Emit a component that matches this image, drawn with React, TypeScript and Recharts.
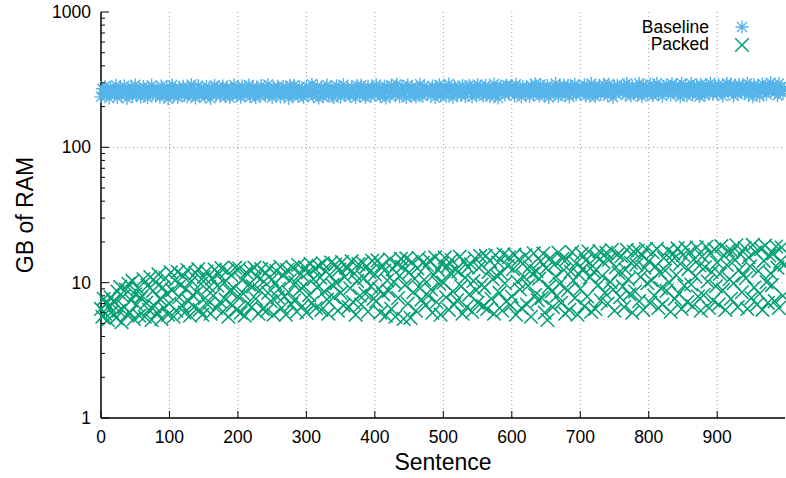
import { ScatterChart, Scatter, XAxis, YAxis, CartesianGrid, Legend } from "recharts";

// one sample every 2 sentences
const SENTENCE_STEP = 2;

const baselineGB = [
  236, 271, 249, 283, 242, 260, 231, 277, 254, 266,
  245, 288, 233, 262, 274, 240, 257, 285, 248, 230,
  268, 251, 279, 237, 263, 290, 244, 256, 272, 235,
  259, 282, 241, 269, 232, 276, 253, 287, 246, 264,
  239, 273, 258, 234, 284, 250, 267, 243, 280, 229,
  261, 247, 289, 238, 270, 255, 233, 278, 265, 252,
  283, 242, 260, 236, 275, 249, 291, 244, 268, 231,
  257, 286, 240, 271, 253, 263, 235, 281, 248, 274,
  230, 266, 255, 288, 243, 277, 259, 238, 269, 284,
  250, 237, 279, 262, 232, 272, 246, 290, 256, 241,
  276, 254, 234, 285, 261, 243, 270, 251, 289, 236,
  264, 280, 247, 232, 273, 258, 241, 286, 267, 252,
  239, 271, 291, 245, 262, 233, 278, 256, 249, 283,
  268, 235, 257, 282, 240, 275, 263, 230, 288, 250,
  244, 287, 266, 253, 237, 279, 248, 270, 234, 260,
  281, 242, 272, 259, 292, 238, 265, 246, 284, 231,
  255, 276, 236, 268, 249, 289, 243, 261, 274, 240,
  233, 262, 285, 251, 277, 235, 269, 290, 245, 258,
  273, 247, 239, 280, 264, 254, 232, 286, 267, 242,
  288, 257, 270, 234, 250, 283, 261, 238, 276, 265,
  243, 291, 256, 272, 237, 266, 248, 284, 231, 278,
  262, 239, 287, 253, 275, 244, 293, 258, 236, 270,
  281, 250, 264, 233, 289, 268, 241, 279, 255, 246,
  235, 274, 260, 292, 247, 238, 282, 263, 271, 252,
  267, 244, 285, 257, 232, 276, 249, 290, 240, 261,
  254, 283, 238, 269, 294, 251, 265, 234, 280, 273,
  246, 259, 277, 242, 286, 256, 237, 271, 263, 288,
  278, 235, 266, 252, 245, 291, 260, 283, 248, 239,
  262, 287, 249, 275, 236, 269, 253, 294, 241, 272,
  231, 268, 284, 258, 279, 244, 289, 264, 250, 276,
  285, 255, 240, 293, 267, 248, 274, 236, 282, 261,
  250, 277, 263, 237, 288, 271, 244, 295, 256, 266,
  239, 291, 252, 280, 245, 265, 286, 233, 275, 258,
  270, 246, 296, 259, 238, 284, 254, 272, 289, 242,
  263, 287, 235, 277, 268, 251, 293, 245, 260, 281,
  248, 274, 261, 290, 240, 279, 266, 238, 296, 257,
  283, 237, 270, 255, 286, 247, 264, 292, 252, 275,
  241, 294, 258, 268, 234, 281, 249, 287, 271, 262,
  276, 253, 289, 243, 296, 260, 273, 239, 284, 251,
  258, 280, 245, 297, 265, 236, 290, 256, 278, 248,
  269, 293, 252, 242, 285, 263, 298, 247, 275, 260,
  238, 282, 272, 290, 254, 267, 244, 295, 259, 279,
  287, 249, 264, 236, 298, 274, 255, 284, 241, 268,
  261, 296, 245, 279, 266, 289, 250, 237, 292, 257,
  276, 242, 287, 262, 253, 299, 270, 246, 283, 264,
  248, 291, 257, 273, 239, 285, 263, 297, 252, 278,
  294, 260, 240, 286, 271, 248, 293, 266, 256, 282,
  251, 277, 298, 244, 288, 262, 236, 290, 274, 259,
  283, 238, 268, 295, 255, 279, 247, 286, 263, 300,
  266, 289, 253, 274, 242, 296, 260, 281, 249, 272,
];

const packedGB = [
  6.4, 5.6, 7.6, 5.9, 7.0, 5.3, 6.7, 7.8, 6.1, 7.3,
  7.2, 5.5, 8.6, 6.2, 9.3, 5.1, 7.9, 6.6, 8.9, 5.8,
  9.8, 6.0, 7.4, 10.3, 5.4, 8.2, 6.9, 9.1, 5.7, 7.7,
  8.0, 10.6, 5.6, 7.1, 9.5, 6.3, 11.0, 5.3, 8.7, 6.7,
  10.1, 6.0, 11.5, 7.6, 5.4, 9.2, 6.5, 10.8, 8.3, 5.8,
  7.0, 11.9, 8.8, 5.6, 10.4, 6.2, 12.0, 7.8, 9.6, 6.8,
  11.2, 6.0, 9.0, 12.4, 7.3, 5.7, 10.3, 8.1, 6.6, 11.8,
  8.5, 12.6, 6.3, 9.8, 5.8, 11.0, 7.7, 12.1, 6.9, 9.3,
  5.9, 10.7, 8.0, 12.5, 6.5, 9.5, 11.6, 7.2, 12.8, 6.1,
  10.0, 7.5, 12.2, 5.6, 8.7, 11.4, 6.8, 9.1, 12.9, 6.3,
  7.9, 12.7, 6.0, 10.5, 8.3, 5.7, 11.9, 7.0, 9.7, 12.3,
  6.6, 9.4, 12.9, 7.6, 11.1, 5.9, 8.8, 12.6, 6.4, 10.2,
  11.7, 6.2, 8.4, 12.8, 7.3, 10.6, 5.8, 9.9, 12.2, 7.8,
  9.0, 13.1, 6.5, 11.3, 7.9, 5.8, 12.4, 8.5, 10.4, 6.9,
  12.9, 7.4, 10.0, 6.1, 13.5, 8.8, 11.6, 6.7, 9.4, 13.0,
  6.0, 11.9, 8.1, 13.8, 7.1, 10.6, 12.7, 6.5, 9.2, 13.3,
  10.9, 6.3, 13.9, 8.6, 12.2, 7.5, 5.9, 11.4, 14.1, 9.6,
  7.8, 13.6, 9.9, 6.2, 12.5, 8.4, 14.2, 6.8, 11.0, 13.0,
  12.8, 6.6, 9.1, 14.4, 7.2, 11.7, 5.8, 10.3, 13.7, 8.0,
  6.9, 14.0, 10.8, 8.3, 13.2, 6.1, 12.0, 9.4, 14.5, 7.6,
  11.5, 7.3, 14.6, 9.0, 6.0, 13.4, 8.2, 12.3, 5.7, 10.4,
  8.7, 14.9, 6.4, 12.6, 10.1, 5.6, 13.8, 7.7, 11.2, 15.0,
  13.1, 5.4, 9.6, 15.1, 7.0, 11.9, 5.5, 14.2, 8.5, 10.7,
  6.2, 12.8, 15.2, 9.1, 7.5, 14.0, 10.5, 6.8, 13.5, 8.0,
  14.6, 8.9, 6.0, 11.4, 15.4, 7.2, 12.5, 9.8, 5.8, 13.9,
  10.0, 15.3, 7.8, 13.2, 6.3, 11.8, 14.7, 8.6, 6.9, 12.4,
  7.4, 12.1, 15.6, 9.4, 5.9, 14.3, 10.9, 6.6, 13.0, 8.2,
  13.7, 6.1, 10.3, 15.1, 8.8, 7.1, 12.9, 15.7, 9.7, 6.7,
  9.2, 15.8, 6.4, 12.0, 14.5, 7.6, 10.6, 5.9, 16.0, 11.3,
  14.1, 8.4, 11.7, 6.2, 16.2, 9.9, 7.3, 13.3, 15.4, 6.8,
  7.9, 12.6, 16.1, 5.8, 10.2, 14.8, 8.9, 6.5, 13.8, 11.0,
  15.9, 6.9, 9.5, 13.1, 5.6, 11.6, 16.5, 8.1, 12.2, 7.4,
  10.7, 14.4, 7.7, 16.4, 6.0, 12.8, 5.3, 9.3, 15.2, 8.6,
  6.6, 13.6, 11.1, 8.0, 16.7, 9.8, 7.1, 15.0, 12.4, 5.9,
  14.9, 8.8, 6.3, 12.1, 16.8, 10.4, 7.7, 13.9, 5.8, 11.5,
  9.0, 16.3, 12.7, 6.7, 14.6, 7.9, 17.0, 10.9, 6.1, 13.3,
  12.0, 6.4, 15.5, 9.6, 17.1, 7.4, 11.2, 14.2, 8.4, 16.6,
  7.0, 14.8, 10.1, 17.4, 8.9, 6.2, 13.0, 16.1, 11.8, 7.8,
  15.7, 9.4, 6.6, 12.5, 17.5, 10.6, 8.2, 14.0, 6.0, 16.9,
  8.6, 13.6, 17.2, 7.3, 11.0, 15.9, 6.3, 12.9, 17.7, 9.9,
  14.4, 7.1, 10.4, 16.7, 8.0, 13.2, 17.8, 6.5, 11.9, 9.1,
  6.9, 15.2, 12.3, 8.7, 17.3, 10.0, 6.1, 14.6, 16.4, 7.6,
  11.4, 17.9, 8.3, 13.8, 6.4, 16.0, 9.5, 18.1, 7.2, 12.6,
  16.8, 9.7, 6.7, 14.9, 11.1, 18.2, 7.9, 13.4, 6.2, 15.6,
  8.1, 13.0, 18.4, 10.2, 6.5, 16.5, 12.0, 7.4, 17.6, 9.4,
  14.1, 6.9, 11.6, 18.6, 8.8, 15.8, 6.3, 13.5, 17.2, 10.6,
  7.6, 17.0, 9.9, 14.7, 18.9, 6.6, 12.4, 16.2, 8.5, 11.3,
  18.0, 10.8, 6.4, 15.4, 13.2, 7.7, 19.0, 9.2, 16.8, 6.9,
  12.2, 8.3, 17.7, 6.3, 14.5, 18.8, 10.1, 7.1, 15.9, 11.7,
  9.6, 16.4, 7.3, 18.5, 12.9, 6.5, 14.3, 18.2, 8.0, 13.6,
];

const xTicks = [0, 100, 200, 300, 400, 500, 600, 700, 800, 900];
const xGridLines = [100, 200, 300, 400, 500, 600, 700, 800, 900];
const yMajorTicks = [1, 10, 100, 1000];
const yMinorTicks = [
  2, 3, 4, 5, 6, 7, 8, 9,
  20, 30, 40, 50, 60, 70, 80, 90,
  200, 300, 400, 500, 600, 700, 800, 900,
];
const yGridLines = [10, 100];

const BASELINE_COLOR = "#56b4e9";
const PACKED_COLOR = "#009e73";
const FONT = '"Liberation Sans", Arial, Helvetica, sans-serif';
const BORDER = { stroke: "#000", strokeWidth: 1.5 };

const toPoints = (values: number[]) =>
  values.map((gb, i) => ({ sentence: i * SENTENCE_STEP, gb }));

function Asterisk({ cx, cy, fill }: any) {
  const r = 6.5;
  const d = 5;
  return (
    <path
      d={`M${cx - r},${cy}H${cx + r}M${cx},${cy - r}V${cy + r}M${cx - d},${cy - d}L${cx + d},${cy + d}M${cx - d},${cy + d}L${cx + d},${cy - d}`}
      stroke={fill}
      strokeWidth={1.4}
      fill="none"
    />
  );
}

function Cross({ cx, cy, fill }: any) {
  const r = 6.8;
  return (
    <path
      d={`M${cx - r},${cy - r}L${cx + r},${cy + r}M${cx - r},${cy + r}L${cx + r},${cy - r}`}
      stroke={fill}
      strokeWidth={1.5}
      fill="none"
    />
  );
}

const shapes: Record<string, any> = { Baseline: Asterisk, Packed: Cross };

function LeftTick({ x, y, payload }: any) {
  const major = yMajorTicks.includes(payload.value);
  return (
    <g>
      <line x1={x} x2={x + (major ? 8 : 4)} y1={y} y2={y} stroke="#000" />
      {major && (
        <text x={x - 10} y={y} dy={6} textAnchor="end" fontSize={17.5} fontFamily={FONT} fill="#000">
          {payload.value}
        </text>
      )}
    </g>
  );
}

function RightTick({ x, y, payload }: any) {
  const major = yMajorTicks.includes(payload.value);
  return <line x1={x} x2={x - (major ? 8 : 4)} y1={y} y2={y} stroke="#000" />;
}

function BottomTick({ x, y, payload }: any) {
  return (
    <g>
      <line x1={x} x2={x} y1={y} y2={y - 7} stroke="#000" />
      <text x={x} y={y + 25} textAnchor="middle" fontSize={17.5} fontFamily={FONT} fill="#000">
        {payload.value}
      </text>
    </g>
  );
}

function TopTick({ x, y }: any) {
  return <line x1={x} x2={x} y1={y} y2={y + 7} stroke="#000" />;
}

function XTitle({ viewBox }: any) {
  return (
    <text x={viewBox.x + viewBox.width / 2} y={viewBox.y + 52} textAnchor="middle" fontSize={23} fontFamily={FONT} fill="#000">
      Sentence
    </text>
  );
}

function YTitle({ viewBox }: any) {
  const x = 33;
  const y = viewBox.y + viewBox.height / 2;
  return (
    <text x={x} y={y} transform={`rotate(-90 ${x} ${y})`} textAnchor="middle" fontSize={23} fontFamily={FONT} fill="#000">
      GB of RAM
    </text>
  );
}

function LegendBox({ payload }: any) {
  return (
    <div style={{ fontFamily: FONT, fontSize: 17.5, color: "#000" }}>
      {(payload ?? []).map((entry: any) => {
        const Shape = shapes[entry.value];
        return (
          <div key={entry.value} style={{ display: "flex", alignItems: "center", height: 17.7 }}>
            <span style={{ width: 90, textAlign: "right", lineHeight: "17.7px" }}>{entry.value}</span>
            <svg width={66} height={18}>
              <Shape cx={33} cy={9} fill={entry.color} />
            </svg>
          </div>
        );
      })}
    </div>
  );
}

export default function App() {
  return (
    <div style={{ position: "absolute", left: 0, top: 0, background: "#fff" }}>
      <ScatterChart width={786} height={478} margin={{ top: 12, right: 1, bottom: 0, left: 0 }}>
        <CartesianGrid
          horizontalValues={yGridLines}
          verticalValues={xGridLines}
          stroke="#9a9a9a"
          strokeDasharray="1 3"
        />
        <XAxis
          dataKey="sentence"
          type="number"
          domain={[0, 999]}
          ticks={xTicks}
          interval={0}
          height={60}
          tickSize={0}
          tickMargin={0}
          tickLine={false}
          axisLine={BORDER}
          tick={(p: any) => <BottomTick {...p} />}
          label={{ content: (p: any) => <XTitle {...p} /> }}
        />
        <XAxis
          xAxisId="top"
          orientation="top"
          type="number"
          domain={[0, 999]}
          allowDataOverflow
          ticks={xTicks}
          interval={0}
          height={0}
          tickSize={0}
          tickMargin={0}
          tickLine={false}
          axisLine={BORDER}
          tick={(p: any) => <TopTick {...p} />}
        />
        <YAxis
          dataKey="gb"
          type="number"
          scale="log"
          domain={[1, 1000]}
          ticks={[...yMajorTicks, ...yMinorTicks]}
          interval={0}
          width={101}
          tickSize={0}
          tickMargin={0}
          tickLine={false}
          axisLine={BORDER}
          tick={(p: any) => <LeftTick {...p} />}
          label={{ content: (p: any) => <YTitle {...p} /> }}
        />
        <YAxis
          yAxisId="right"
          orientation="right"
          type="number"
          scale="log"
          domain={[1, 1000]}
          allowDataOverflow
          ticks={[...yMajorTicks, ...yMinorTicks]}
          interval={0}
          width={0}
          tickSize={0}
          tickMargin={0}
          tickLine={false}
          axisLine={BORDER}
          tick={(p: any) => <RightTick {...p} />}
        />
        <Legend
          layout="vertical"
          align="center"
          verticalAlign="middle"
          wrapperStyle={{ left: 619, top: 18.5, width: 160 }}
          content={(p: any) => <LegendBox {...p} />}
        />
        <Scatter
          name="Baseline"
          data={toPoints(baselineGB)}
          fill={BASELINE_COLOR}
          shape={(p: any) => <Asterisk {...p} />}
          isAnimationActive={false}
        />
        <Scatter
          name="Packed"
          data={toPoints(packedGB)}
          fill={PACKED_COLOR}
          shape={(p: any) => <Cross {...p} />}
          isAnimationActive={false}
        />
      </ScatterChart>
    </div>
  );
}
